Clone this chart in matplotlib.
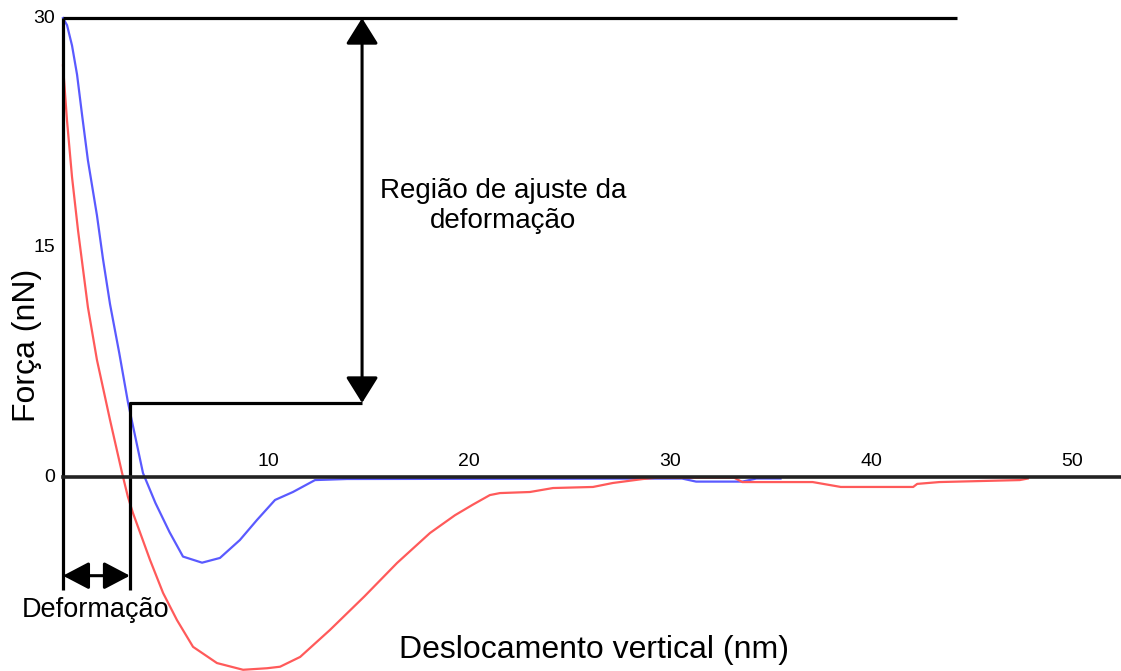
import matplotlib
matplotlib.use("Agg")
import matplotlib.pyplot as plt

# ---- data ----
blue_x = [0.0, 0.2, 0.45, 0.7, 0.95, 1.24, 1.69, 1.99, 2.34, 2.8, 3.23, 3.43, 3.98, 4.6, 5.3, 5.97,
          6.92, 7.81, 8.8, 9.65, 10.55, 11.44, 12.54, 14.13, 30.8, 31.5, 33.8, 34.5, 35.7]
blue_y = [30.0, 29.54, 28.2, 26.3, 23.66, 20.7, 17.1, 14.25, 11.3, 8.1, 4.9, 3.66, 0.26, -1.7, -3.6, -5.2,
          -5.6, -5.29, -4.12, -2.81, -1.5, -0.98, -0.2, -0.13, -0.1, -0.3, -0.3, -0.1, -0.1]

red_x = [0.0, 0.2, 0.45, 0.75, 1.24, 1.69, 2.34, 2.94, 3.23, 3.48, 4.33, 4.98, 5.67, 6.47, 7.66,
         8.96, 10.15, 10.8, 11.8, 13.28, 15.0, 16.62, 18.26, 19.5, 20.4, 21.24, 21.74,
         23.23, 24.38, 26.37, 27.36, 28.86, 29.5, 33.4, 33.8, 37.3, 38.7, 42.3, 42.5, 43.6,
         47.6, 48.0]
red_y = [26.9, 23.3, 19.6, 16.1, 11.1, 7.65, 3.73, 0.26, -1.3, -2.35, -5.42, -7.58, -9.35, -11.1,
         -12.16, -12.6, -12.5, -12.4, -11.76, -10.0, -7.8, -5.62, -3.66, -2.5, -1.8, -1.18, -1.05,
         -0.98, -0.72, -0.65, -0.39, -0.13, -0.05, -0.05, -0.33, -0.33, -0.65, -0.65, -0.45, -0.33,
         -0.2, -0.1]

x_ticks = [10, 20, 30, 40, 50]
y_ticks = [0, 15, 30]

# annotation geometry (data units)
deform_x = 3.33        # end of deformation
fit_bottom = 4.84      # lower bound of fitting region
fit_top = 30.0         # upper bound of fitting region
fit_arrow_x = 14.88    # x of the vertical double arrow
top_line_end = 44.5
left_line_bottom = -7.4
deform_arrow_y = -6.45

plt.rcParams['font.family'] = ['Liberation Sans', 'DejaVu Sans']

fig = plt.figure(figsize=(11.21, 6.71), dpi=100)
ax = fig.add_axes([0, 0, 1, 1])
ax.set_xlim(-3.134, 52.64)
ax.set_ylim(-12.68, 31.18)
ax.axis('off')

# curves
ax.plot(blue_x, blue_y, color='#5a5aff', lw=1.6, zorder=2)
ax.plot(red_x, red_y, color='#ff5a5a', lw=1.6, zorder=2)

k = dict(color='black', lw=2.3, zorder=3, solid_capstyle='butt')
# zero axis
ax.plot([0, 52.64], [0, 0], color='#222222', lw=2.6, zorder=4)
# top line
ax.plot([0, top_line_end], [fit_top, fit_top], **k)
# left vertical line
ax.plot([0, 0], [fit_top, left_line_bottom], **k)
# deformation vertical + fit region step
ax.plot([deform_x, deform_x, fit_arrow_x], [left_line_bottom, fit_bottom, fit_bottom], **k)

# vertical double arrow
ax.annotate('', xy=(fit_arrow_x, fit_top), xytext=(fit_arrow_x, fit_bottom),
            arrowprops=dict(arrowstyle='<|-|>,head_length=0.8,head_width=0.5',
                            mutation_scale=20, color='black', lw=2.2,
                            shrinkA=0, shrinkB=0), zorder=5)
# horizontal double arrow
ax.annotate('', xy=(0, deform_arrow_y), xytext=(deform_x, deform_arrow_y),
            arrowprops=dict(arrowstyle='<|-|>,head_length=0.8,head_width=0.42',
                            mutation_scale=20, color='black', lw=2.2,
                            shrinkA=0, shrinkB=0), zorder=5)

# tick labels
for t in x_ticks:
    ax.text(t + 0.2, 0.45, str(t), ha='center', va='bottom', fontsize=14)
for t in y_ticks:
    ax.text(-0.4, t, str(t), ha='right', va='center', fontsize=14)

# texts
ax.text(21.89, 17.7, 'Região de ajuste da\ndeformação', ha='center', va='center',
        multialignment='center', fontsize=20, linespacing=1.2)
ax.text(1.64, -8.7, 'Deformação', ha='center', va='center', fontsize=19.5)
ax.text(26.42, -11.3, 'Deslocamento vertical (nm)', ha='center', va='center', fontsize=23)
ax.text(-1.79, 8.6, 'Força (nN)', ha='center', va='center', rotation=90, fontsize=23)

fig.savefig('out.png', dpi=100)
